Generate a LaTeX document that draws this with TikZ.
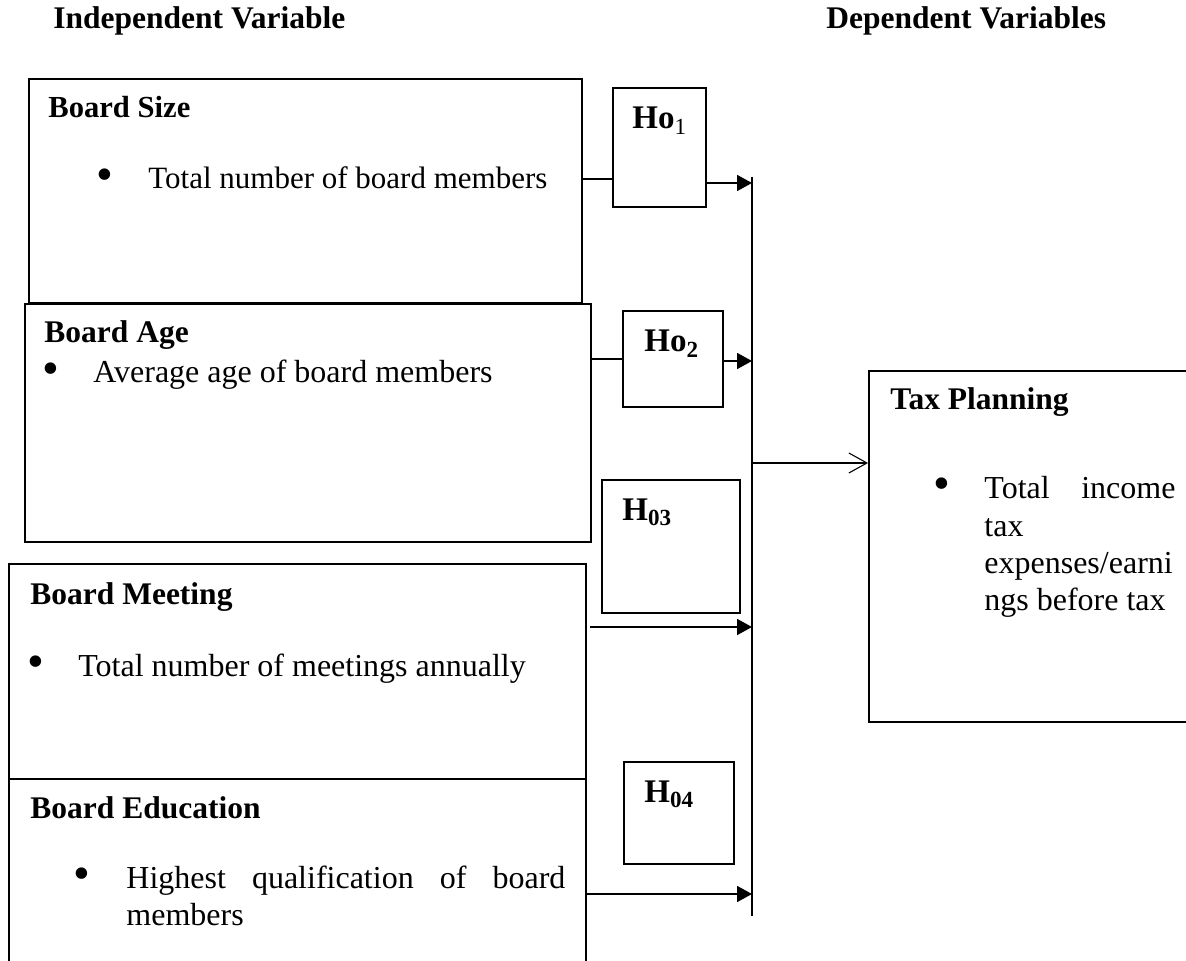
\documentclass[tikz,border=0pt]{standalone}
\usepackage{fontspec}
\setmainfont{Liberation Serif}
\usetikzlibrary{arrows.meta}
\tikzset{
  box/.style={draw, line width=1pt, inner sep=0pt, anchor=north west, fill=white},
  head/.style={anchor=base west, inner sep=0pt, font=\bfseries\fontsize{15.75}{18}\selectfont},
  title/.style={anchor=base west, inner sep=0pt, font=\bfseries\fontsize{15.75}{18}\selectfont},
  body/.style={anchor=base west, inner sep=0pt, font=\fontsize{16}{19}\selectfont},
  bul/.style={anchor=center, inner sep=0pt, font=\fontsize{24}{24}\selectfont},
  hlab/.style={anchor=base west, inner sep=0pt, font=\bfseries\fontsize{16.5}{19}\selectfont},
  conn/.style={line width=0.9pt},
  arr/.style={line width=0.9pt, -{Triangle[length=7.5pt,width=8pt]}},
  openarr/.style={line width=0.55pt, -{Straight Barb[length=9pt,width=10pt,line width=0.55pt]}},
  vline/.style={line width=0.7pt}
}
\begin{document}
\begin{tikzpicture}[x=0.5pt,y=-0.5pt]
\useasboundingbox (0,0) rectangle (1186,961);
\clip (0,0) rectangle (1186,961);
\fill[white] (0,0) rectangle (1186,961);

% titles
\node[title] (t1) at (53,29) {Independent Variable};
\node[title] (t2) at (826,29) {Dependent Variables};

% left boxes
\node[box, minimum width=276.5pt, minimum height=112pt] (bs) at (28,78) {};
\node[box, minimum width=283pt, minimum height=119pt] (ba) at (24,303) {};
\node[box, minimum width=288.5pt, minimum height=107.5pt] (bm) at (8,563) {};
\node[box, minimum width=288.5pt, minimum height=120pt] (be) at (8,778) {};

% texts in boxes
\node[head, font=\bfseries\fontsize{15.3}{18}\selectfont] (bsh) at (48,118) {Board Size};
\node[bul] (bsb) at (105,180) {\textbullet};
\node[body, font=\fontsize{15.5}{18.5}\selectfont] (bst) at (148,189) {Total number of board members};

\node[head] (bah) at (44,343) {Board Age};
\node[bul] (bab) at (51,374) {\textbullet};
\node[body] (bat) at (93,383) {Average age of board members};

\node[head] (bmh) at (30,604) {Board Meeting};
\node[bul] (bmb) at (36,667) {\textbullet};
\node[body] (bmt) at (78,676) {Total number of meetings annually};

\node[head] (beh) at (30,818) {Board Education};
\node[bul] (beb) at (82,879) {\textbullet};
\node[body] (bet1) at (126,888) {\makebox[219.5pt][s]{Highest qualification of board}};
\node[body] (bet2) at (126,925) {members};

% hypothesis boxes
\node[box, minimum width=46.5pt, minimum height=59.5pt] (h1) at (612,87) {};
\node[hlab] (h1l) at (632,129) {Ho\textsubscript{\mdseries 1}};
\node[box, minimum width=50pt, minimum height=48pt] (h2) at (622,310) {};
\node[hlab] (h2l) at (644,352) {Ho\textsubscript{2}};
\node[box, minimum width=69pt, minimum height=66.5pt] (h3) at (601,479) {};
\node[hlab] (h3l) at (622,520) {H\textsubscript{03}};
\node[box, minimum width=55pt, minimum height=51pt] (h4) at (623,761) {};
\node[hlab] (h4l) at (644,802) {H\textsubscript{04}};

% tax planning
\node[box, minimum width=165pt, minimum height=175.5pt] (tp) at (868,370) {};
\node[head] (tph) at (890,410) {Tax Planning};
\node[bul] (tpb) at (942,489) {\textbullet};
\node[body] (tpt1) at (984,498) {\makebox[95.5pt][s]{Total income}};
\node[body] (tpt2) at (984,536) {tax};
\node[body] (tpt3) at (984,573) {expenses/earni};
\node[body] (tpt4) at (984,610) {ngs before tax};

% vertical collector line
\coordinate (vtop) at (752,177);
\coordinate (vbot) at (752,916);
\draw[vline] (vtop) -- (vbot);
\coordinate (v1) at (752,183);
\coordinate (v2) at (752,361);
\coordinate (v3) at (752,627);
\coordinate (v4) at (752,894);
\coordinate (vt) at (752,463);

% connectors
\draw[conn] (bs.east |- 0,179) -- (h1.west |- 0,179);
\draw[arr] (h1.east |- v1) -- (v1);
\draw[conn] (ba.east |- 0,359) -- (h2.west |- 0,359);
\draw[arr] (h2.east |- v2) -- (v2);
\draw[arr] ([xshift=1.5pt]bm.east |- v3) -- (v3);
\draw[arr] (be.east |- v4) -- (v4);
\draw[openarr] (vt) -- (tp.west |- vt);
\end{tikzpicture}
\end{document}
